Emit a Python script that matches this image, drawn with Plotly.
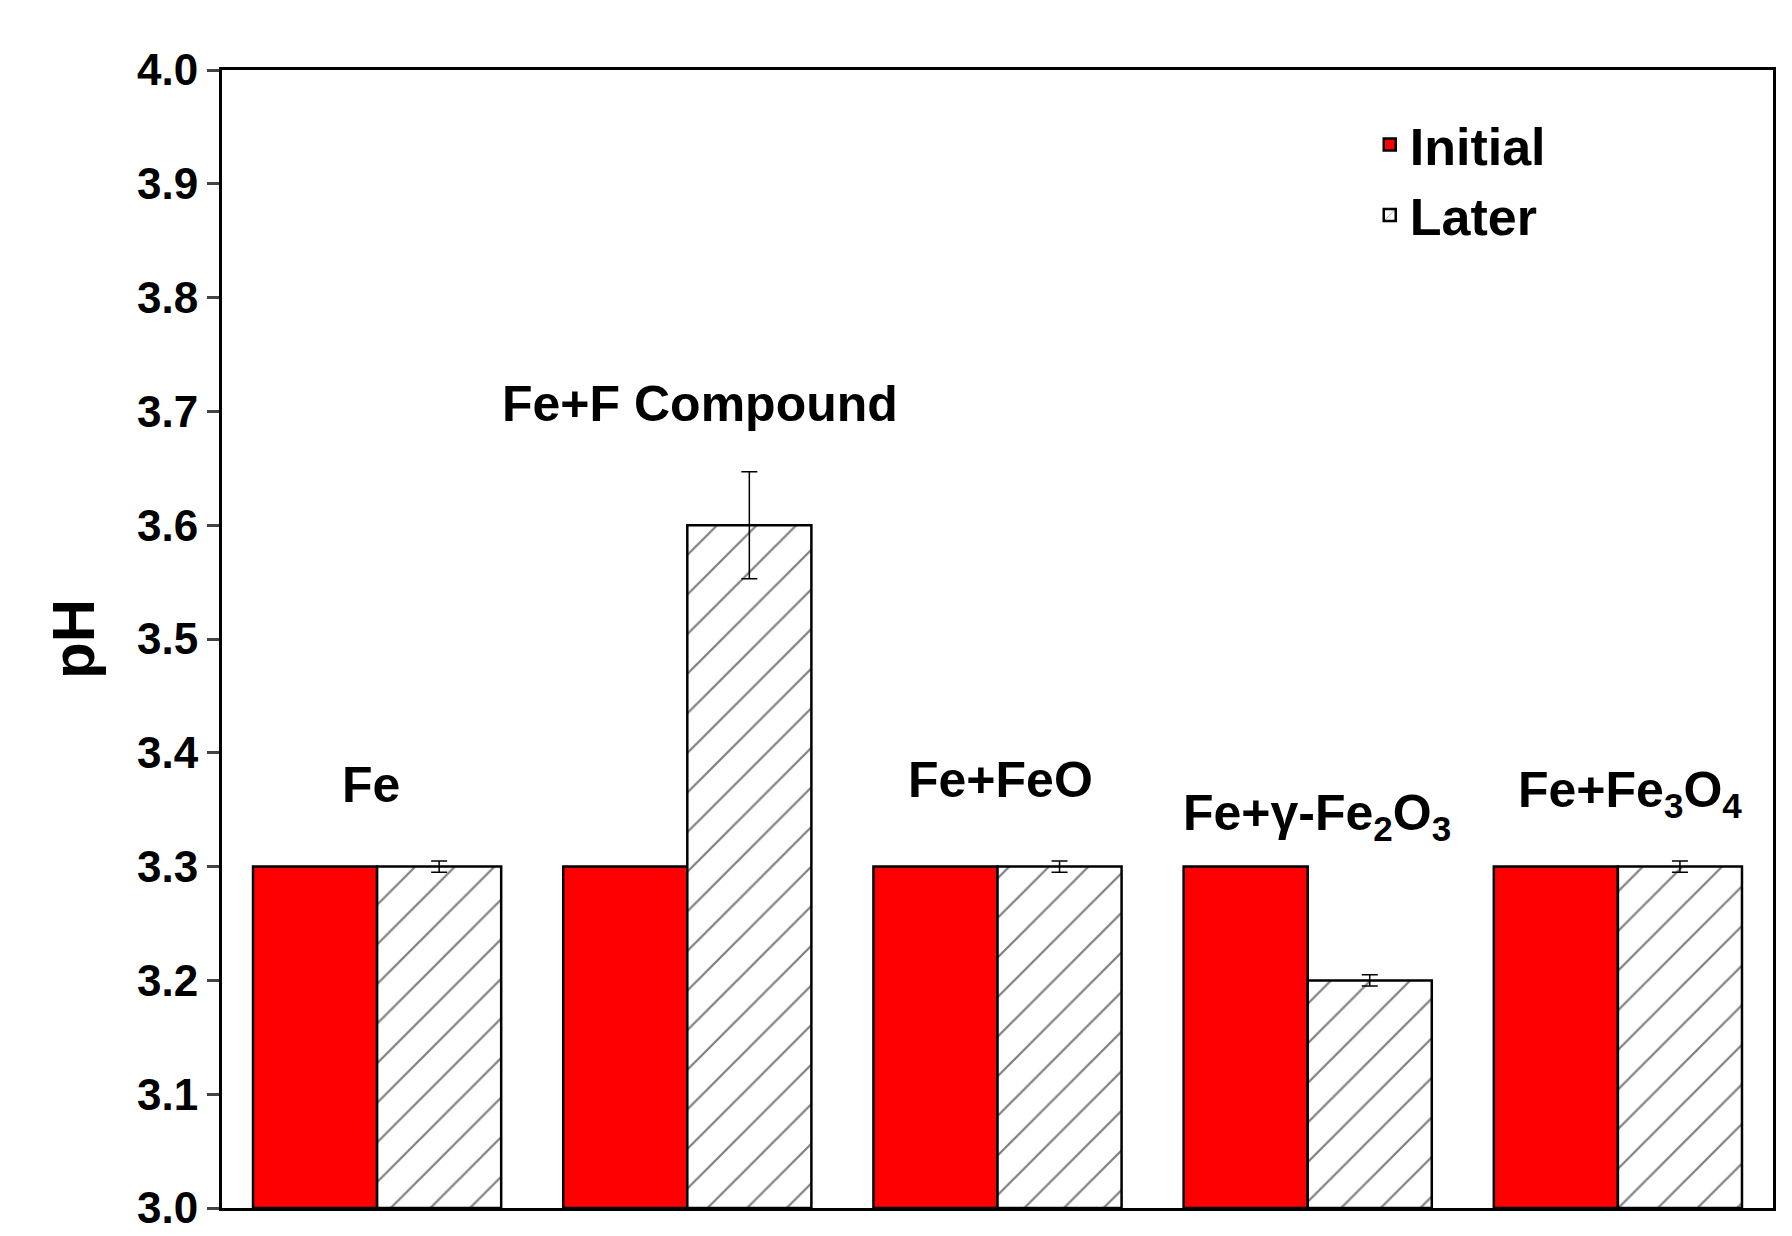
import plotly.graph_objects as go

categories = ["Fe", "Fe+F Compound", "Fe+FeO", "Fe+γ-Fe2O3", "Fe+Fe3O4"]
labels = ["Fe", "Fe+F Compound", "Fe+FeO", "Fe+γ-Fe<sub>2</sub>O<sub>3</sub>", "Fe+Fe<sub>3</sub>O<sub>4</sub>"]
label_y = [3.345, 3.68, 3.35, 3.315, 3.335]
label_dx = [-0.02, 0.04, 0.01, 0.03, 0.04]
initial = [3.3, 3.3, 3.3, 3.3, 3.3]
later = [3.3, 3.6, 3.3, 3.2, 3.3]
later_err = [0.005, 0.047, 0.005, 0.005, 0.005]

x = list(range(len(categories)))
fig = go.Figure()
fig.add_bar(x=x, y=[v - 3.0 for v in initial], base=3.0, name="Initial",
            marker=dict(color="#ff0000", line=dict(color="black", width=2.5)))
fig.add_bar(x=x, y=[v - 3.0 for v in later], base=3.0, name="Later",
            marker=dict(color="white", line=dict(color="black", width=2.5),
                        pattern=dict(shape="/", fgcolor="black", bgcolor="white", size=28, solidity=0.08)),
            error_y=dict(type="data", array=later_err, color="black", thickness=1.5, width=8))
for i, (lab, ly, dx) in enumerate(zip(labels, label_y, label_dx)):
    fig.add_annotation(x=i + dx, y=ly, text="<b>" + lab + "</b>", showarrow=False,
                       font=dict(size=50, color="black", family="Liberation Sans, Arial"),
                       yanchor="bottom")

fig.update_layout(
    width=1792, height=1236, plot_bgcolor="white", paper_bgcolor="white",
    margin=dict(l=214, r=27, t=62, b=34),
    barmode="group", bargap=0.2, bargroupgap=0,
    font=dict(family="Liberation Sans, Arial", color="black"),
    legend=dict(x=0.74, y=0.97, xanchor="left", yanchor="top",
                font=dict(size=52, family="Liberation Sans, Arial", weight="bold"),
                bgcolor="rgba(0,0,0,0)", tracegroupgap=0),
    xaxis=dict(range=[-0.5, 4.5], showticklabels=False, ticks="", showline=True,
               linecolor="black", linewidth=3, mirror=True, showgrid=False),
    yaxis=dict(range=[3.0, 4.0], dtick=0.1, tickformat=".1f", ticks="outside", ticklen=12,
               tickwidth=3, showline=True, linecolor="black", linewidth=3, mirror=True,
               showgrid=False, tickfont=dict(size=44, family="Liberation Sans, Arial", weight="bold"),
               title=dict(text="<b>pH</b>", font=dict(size=60), standoff=24)),
)
fig.write_html("out.html")
